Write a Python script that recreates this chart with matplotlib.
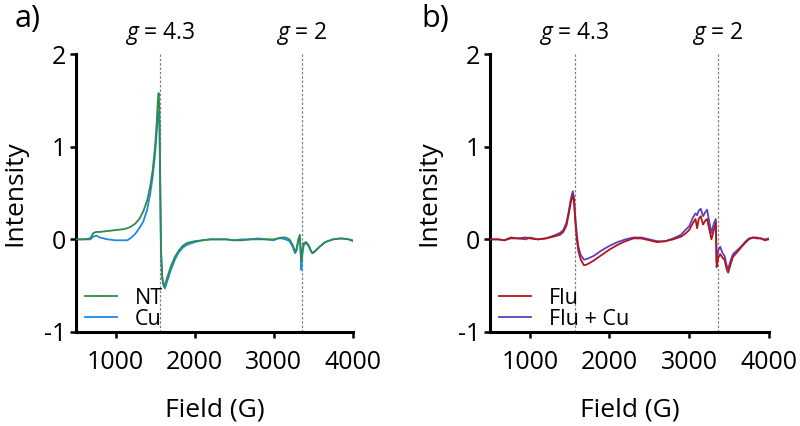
import matplotlib
matplotlib.use("Agg")
import matplotlib.pyplot as plt
import matplotlib.transforms as mtransforms

plt.rcParams['font.family'] = ['Open Sans', 'DejaVu Sans']
plt.rcParams['mathtext.fontset'] = 'custom'
plt.rcParams['mathtext.it'] = 'Open Sans:italic'
plt.rcParams['mathtext.rm'] = 'Open Sans'

# ---------------- data ----------------
field_a = [500, 600, 680, 720, 760, 800, 900, 1000, 1100, 1150, 1200, 1250, 1300, 1350,
           1400, 1440, 1470, 1500, 1520, 1535, 1545, 1555, 1565, 1575, 1590, 1610, 1625,
           1650, 1700, 1750, 1800, 1850, 1900, 2000, 2100, 2200, 2300, 2400, 2500, 2600,
           2700, 2800, 2900, 3000, 3050, 3100, 3150, 3200, 3240, 3270, 3290, 3310, 3330,
           3340, 3350, 3360, 3380, 3410, 3440, 3470, 3490, 3520, 3580, 3650, 3750, 3850,
           3950, 4000]
nt = [0.0, 0.0, 0.01, 0.07, 0.08, 0.08, 0.09, 0.10, 0.11, 0.12, 0.14, 0.17, 0.22, 0.30,
      0.42, 0.58, 0.75, 1.00, 1.25, 1.50, 1.58, 1.40, 0.60, -0.10, -0.40, -0.51, -0.49,
      -0.42, -0.29, -0.19, -0.12, -0.07, -0.04, -0.02, -0.01, 0.0, 0.0, 0.0, -0.01, -0.01,
      0.0, 0.0, 0.0, 0.0, 0.01, 0.02, 0.02, 0.0, -0.06, -0.13, -0.10, 0.0, 0.05,
      -0.10, -0.23, -0.12, -0.04, -0.03, -0.06, -0.12, -0.15, -0.13, -0.08, -0.03, 0.0, 0.01,
      0.0, -0.01]
cu = [0.0, 0.0, 0.0, 0.03, 0.04, 0.02, 0.0, -0.01, -0.01, -0.01, 0.02, 0.06, 0.12, 0.19,
      0.32, 0.50, 0.68, 0.92, 1.15, 1.32, 1.38, 1.25, 0.50, -0.15, -0.42, -0.50, -0.53,
      -0.46, -0.33, -0.22, -0.14, -0.09, -0.06, -0.03, -0.01, 0.0, 0.0, 0.0, -0.01, 0.0,
      0.0, 0.01, 0.0, -0.01, 0.01, 0.01, 0.0, -0.02, -0.08, -0.15, -0.12, -0.02, 0.03,
      -0.15, -0.33, -0.18, -0.06, -0.04, -0.07, -0.13, -0.15, -0.13, -0.08, -0.03, 0.0, 0.01,
      0.0, -0.02]

field_b = [500, 600, 680, 760, 850, 950, 1000, 1100, 1200, 1300, 1380, 1420, 1460, 1490,
           1515, 1540, 1555, 1570, 1590, 1610, 1640, 1680, 1720, 1800, 1900, 2000, 2100,
           2200, 2300, 2400, 2500, 2600, 2700, 2800, 2900, 2950, 3000, 3050, 3080, 3100,
           3120, 3145, 3175, 3200, 3225, 3255, 3280, 3310, 3335, 3345, 3365, 3390, 3420,
           3445, 3470, 3490, 3520, 3550, 3600, 3650, 3700, 3750, 3800, 3850, 3900, 3950, 4000]
flu = [0.0, 0.0, -0.01, 0.02, 0.01, 0.02, 0.01, 0.0, 0.01, 0.03, 0.05, 0.08, 0.15, 0.28,
       0.40, 0.48, 0.40, 0.20, 0.0, -0.13, -0.22, -0.28, -0.27, -0.23, -0.17, -0.11, -0.06,
       -0.02, 0.01, 0.01, -0.01, -0.03, -0.02, 0.0, 0.03, 0.06, 0.10, 0.18, 0.22, 0.12,
       0.22, 0.25, 0.16, 0.20, 0.22, 0.10, 0.0, 0.10, 0.18, -0.30, -0.20, -0.16, -0.20,
       -0.22, -0.32, -0.36, -0.27, -0.19, -0.14, -0.09, -0.04, 0.0, 0.02, 0.01, 0.01, -0.01, 0.0]
flu_cu = [0.0, 0.0, -0.01, 0.01, 0.01, 0.0, 0.02, 0.0, 0.01, 0.04, 0.07, 0.10, 0.18, 0.31,
          0.44, 0.52, 0.45, 0.25, 0.05, -0.08, -0.17, -0.22, -0.21, -0.18, -0.12, -0.07, -0.03,
          0.0, 0.02, 0.02, 0.0, -0.02, -0.02, 0.01, 0.05, 0.10, 0.14, 0.24, 0.28, 0.26,
          0.31, 0.33, 0.25, 0.29, 0.32, 0.18, 0.07, 0.17, 0.22, -0.25, -0.12, -0.08, -0.15,
          -0.18, -0.28, -0.32, -0.23, -0.16, -0.12, -0.08, -0.03, 0.01, 0.02, 0.02, 0.01, 0.0, 0.01]

g_fields = [1562, 3358]
g_labels = ['$g$ = 4.3', '$g$ = 2']
xticks = [1000, 2000, 3000, 4000]
yticks = [-1, 0, 1, 2]

# ---------------- figure ----------------
fig = plt.figure(figsize=(8, 4.26), dpi=100)
ax_a = fig.add_axes([0.095, 0.2207, 0.346, 0.6523])
ax_b = fig.add_axes([0.6125, 0.2207, 0.3485, 0.6523])

def style(ax):
    ax.set_xlim(500, 4000)
    ax.set_ylim(-1, 2)
    ax.set_xticks(xticks)
    ax.set_yticks(yticks)
    ax.set_yticklabels([str(v) for v in yticks])
    for s in ['top', 'right']:
        ax.spines[s].set_visible(False)
    for s in ['left', 'bottom']:
        ax.spines[s].set_linewidth(2.2)
    ax.tick_params(direction='out', length=4, width=1.8, labelsize=18, pad=3)
    ax.tick_params(axis='x', pad=9)
    ax.set_xlabel('Field (G)', fontsize=19, labelpad=16)
    ax.set_ylabel('Intensity', fontsize=19, labelpad=12)
    for gx, gl in zip(g_fields, g_labels):
        ax.axvline(gx, color='#808080', lw=0.9, ls=(0, (2, 1.5)), zorder=1)
        tr = mtransforms.blended_transform_factory(ax.transData, ax.transAxes)
        ax.text(gx, 1.075, gl, transform=tr, ha='center', va='center', fontsize=16.5)

leg_kw = dict(loc='lower left', bbox_to_anchor=(0.025, 0.0), frameon=False, fontsize=15.5,
              handlelength=1.5, handletextpad=0.8, labelspacing=0.0,
              borderaxespad=0.0, borderpad=0.1)

# panel a
l_cu, = ax_a.plot(field_a, cu, color='#1E88F0', lw=1.3, label='Cu', zorder=2)
l_nt, = ax_a.plot(field_a, nt, color='#2E8B4A', lw=1.3, label='NT', zorder=3)
style(ax_a)
ax_a.legend([l_nt, l_cu], ['NT', 'Cu'], **leg_kw)

# panel b
l_fc, = ax_b.plot(field_b, flu_cu, color='#5E3FBF', lw=1.3, label='Flu + Cu', zorder=2)
l_f, = ax_b.plot(field_b, flu, color='#B0161A', lw=1.3, label='Flu', zorder=3)
style(ax_b)
ax_b.legend([l_f, l_fc], ['Flu', 'Flu + Cu'], **leg_kw)

fig.text(0.018, 0.955, 'a)', fontsize=22, va='center', ha='left')
fig.text(0.527, 0.955, 'b)', fontsize=22, va='center', ha='left')

fig.savefig('out.png', dpi=100)
